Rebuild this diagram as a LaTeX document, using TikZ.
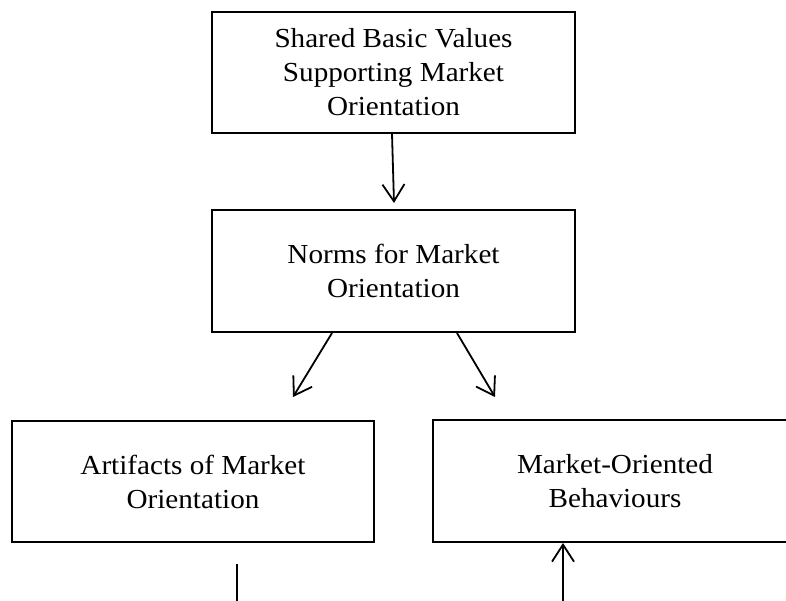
\documentclass[tikz,border=0pt]{standalone}
\usepackage{fontspec}
\setmainfont[FakeStretch=1.06]{Liberation Serif}
\usetikzlibrary{arrows.meta}
\tikzset{
  box/.style={draw, line width=2pt, inner sep=0pt, align=center,
    font=\fontsize{27.5}{34}\selectfont},
  conn/.style={line width=1.8pt, -{Straight Barb[length=17pt, width=22pt, line width=1.8pt]}},
  plain/.style={line width=1.8pt}
}
\begin{document}
\begin{tikzpicture}[x=1pt, y=-1pt]
\useasboundingbox (0,0) rectangle (786,601);
\clip (0,0) rectangle (786,601);
\node[box, minimum width=363pt, minimum height=121pt] (top) at (393.5,72.5)
  {Shared Basic Values\\Supporting Market\\Orientation};
\node[box, minimum width=363pt, minimum height=122pt] (mid) at (393.5,271)
  {Norms for Market\\Orientation};
\node[box, minimum width=362pt, minimum height=121pt] (left) at (193,481.5)
  {Artifacts of Market\\Orientation};
\node[box, minimum width=364pt, minimum height=122pt] (right) at (615,481)
  {Market-Oriented\\Behaviours};
\coordinate (lbot) at (237,610);
\coordinate (rbot) at (563,610);
\draw[conn] ([xshift=-1.5pt]top.south) -- ([xshift=0.5pt,yshift=6pt]mid.north);
\draw[conn] ([xshift=-61.5pt]mid.south) -- ([xshift=100pt,yshift=23pt]left.north);
\draw[conn] ([xshift=63.5pt]mid.south) -- ([xshift=-120pt,yshift=22pt]right.north);
\draw[plain] ([xshift=44pt,yshift=-21pt]left.south) -- (lbot);
\draw[conn] (rbot) -- ([xshift=-52pt]right.south);
\end{tikzpicture}
\end{document}
